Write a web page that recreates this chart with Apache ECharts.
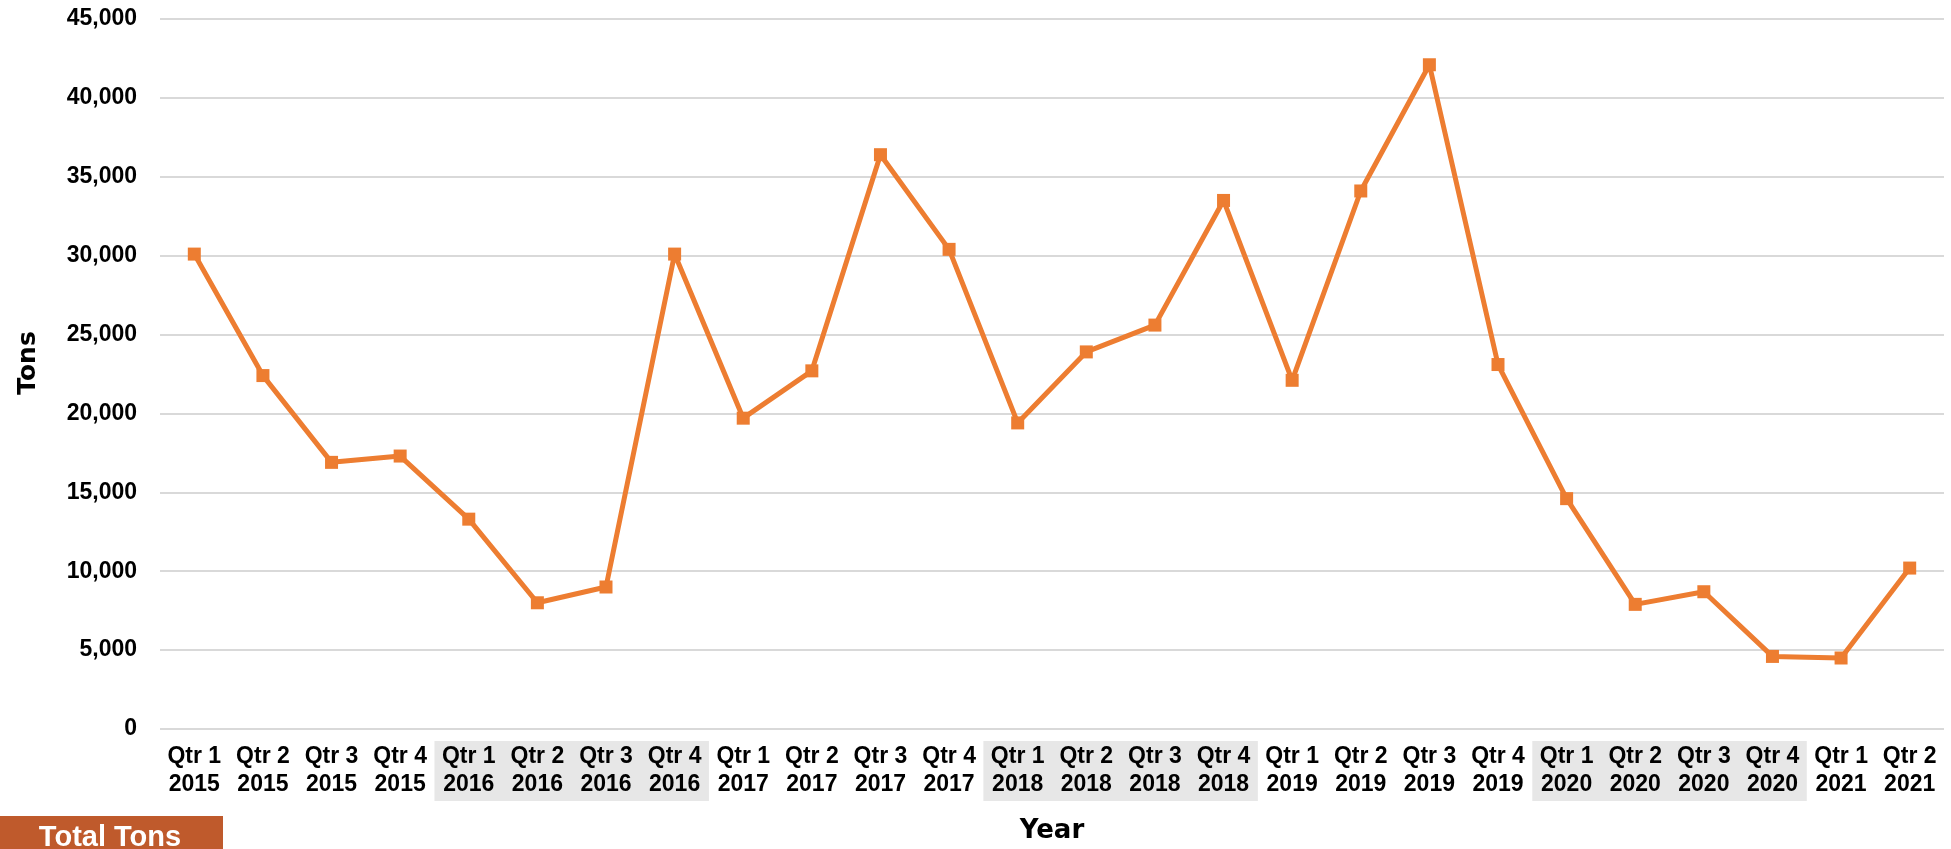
<!DOCTYPE html>
<html>
<head>
<meta charset="utf-8">
<script src="https://cdn.jsdelivr.net/npm/echarts@6/dist/echarts.min.js"></script>
<style>
  html, body { margin: 0; padding: 0; background: #fff; }
  #chart { width: 1951px; height: 849px; }
</style>
</head>
<body>
<div id="chart"></div>
<script>
// ---- data ----
const quarters = ['Qtr 1','Qtr 2','Qtr 3','Qtr 4','Qtr 1','Qtr 2','Qtr 3','Qtr 4','Qtr 1','Qtr 2','Qtr 3','Qtr 4','Qtr 1','Qtr 2','Qtr 3','Qtr 4','Qtr 1','Qtr 2','Qtr 3','Qtr 4','Qtr 1','Qtr 2','Qtr 3','Qtr 4','Qtr 1','Qtr 2'];
const years = ['2015','2015','2015','2015','2016','2016','2016','2016','2017','2017','2017','2017','2018','2018','2018','2018','2019','2019','2019','2019','2020','2020','2020','2020','2021','2021'];
const tons = [30100, 22400, 16900, 17300, 13300, 8000, 9000, 30100, 19700, 22700, 36400, 30400, 19400, 23900, 25600, 33500, 22100, 34100, 42100, 23100, 14600, 7900, 8700, 4600, 4500, 10200];
const shadedYears = ['2016', '2018', '2020'];
const yTicks = { min: 0, max: 45000, interval: 5000 };
const seriesName = 'Total Tons';
const xTitle = 'Year';
const yTitle = 'Tons';

const categories = quarters.map((q, i) => q + '\n' + years[i]);

const chart = echarts.init(document.getElementById('chart'), null, { renderer: 'canvas' });

const option = {
  animation: false,
  backgroundColor: '#fff',
  grid: { left: 160, right: 7, top: 19, bottom: 114, containLabel: false },
  xAxis: {
    type: 'category',
    data: categories,
    boundaryGap: true,
    axisLine: { show: false },
    axisTick: { show: false },
    axisLabel: {
      interval: 0,
      margin: 14,
      color: '#000',
      fontFamily: 'Liberation Sans, Arial, sans-serif',
      fontWeight: 'bold',
      fontSize: 23,
      lineHeight: 28
    },
    name: xTitle,
    nameLocation: 'middle',
    nameGap: 89,
    nameTextStyle: {
      color: '#000',
      fontFamily: 'DejaVu Sans, sans-serif',
      fontWeight: 'bold',
      fontSize: 26
    }
  },
  yAxis: {
    type: 'value',
    min: yTicks.min,
    max: yTicks.max,
    interval: yTicks.interval,
    axisLine: { show: false },
    axisTick: { show: false },
    splitLine: { show: true, lineStyle: { color: '#d9d9d9', width: 2 } },
    axisLabel: {
      margin: 23,
      color: '#000',
      fontFamily: 'Liberation Sans, Arial, sans-serif',
      fontWeight: 'bold',
      fontSize: 23,
      formatter: v => v.toLocaleString('en-US')
    },
    name: yTitle,
    nameLocation: 'middle',
    nameRotate: 90,
    nameGap: 119,
    nameTextStyle: {
      color: '#000',
      fontFamily: 'DejaVu Sans, sans-serif',
      fontWeight: 'bold',
      fontSize: 25,
      padding: [0, 0, 0, 22]
    }
  },
  series: [{
    name: seriesName,
    type: 'line',
    data: tons,
    symbol: 'rect',
    symbolSize: 13,
    showAllSymbol: true,
    lineStyle: { color: '#ED7D31', width: 5 },
    itemStyle: { color: '#ED7D31' },
    z: 5
  }]
};

chart.setOption(option);

// shaded year bands behind the x-axis labels, positioned through the axis scale
function buildBands() {
  const elements = [];
  const c0 = chart.convertToPixel({ xAxisIndex: 0 }, 0);
  const c1 = chart.convertToPixel({ xAxisIndex: 0 }, 1);
  const step = c1 - c0;
  const yBase = chart.convertToPixel({ yAxisIndex: 0 }, 0);
  shadedYears.forEach(yr => {
    const idx = years.map((y, i) => y === yr ? i : -1).filter(i => i >= 0);
    if (!idx.length) return;
    const xStart = chart.convertToPixel({ xAxisIndex: 0 }, idx[0]) - step / 2;
    const xEnd = chart.convertToPixel({ xAxisIndex: 0 }, idx[idx.length - 1]) + step / 2;
    elements.push({
      type: 'rect',
      z: -10,
      silent: true,
      shape: { x: xStart, y: yBase + 12, width: xEnd - xStart, height: 60 },
      style: { fill: '#e7e7e7' }
    });
  });
  // legend-like label box at bottom-left
  elements.push({
    type: 'rect',
    silent: true,
    shape: { x: 0, y: 816, width: 223, height: 40 },
    style: { fill: '#BF5A2C' }
  });
  elements.push({
    type: 'text',
    silent: true,
    x: 110,
    y: 823,
    style: {
      text: seriesName,
      fill: '#fff',
      font: 'bold 29px "Liberation Sans", Arial, sans-serif',
      align: 'center',
      verticalAlign: 'top'
    }
  });
  chart.setOption({ graphic: { elements } });
}
buildBands();
</script>
</body>
</html>
